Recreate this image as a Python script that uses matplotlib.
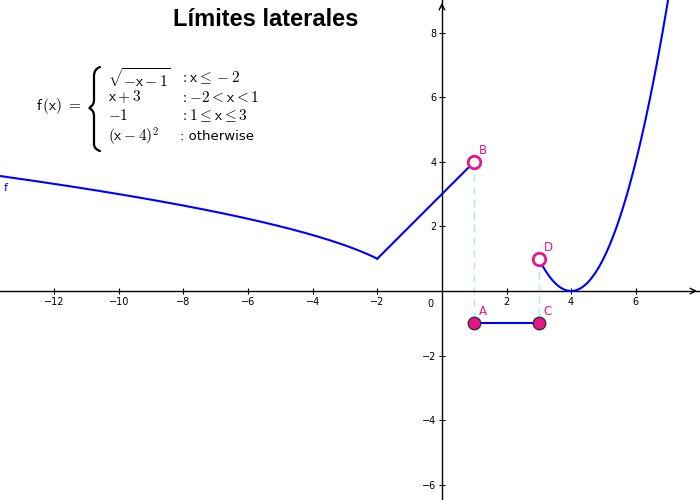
import numpy as np
import matplotlib
matplotlib.use("Agg")
import matplotlib.pyplot as plt
from matplotlib.path import Path
from matplotlib.patches import PathPatch

# datos
titulo = "Límites laterales"
puntos_nombre = ["A", "B", "C", "D"]
puntos_x = [1, 1, 3, 3]
puntos_y = [-1, 4, -1, 1]
puntos_abiertos = [False, True, False, True]
xticks = [-12, -10, -8, -6, -4, -2, 2, 4, 6]
yticks = [-6, -4, -2, 2, 4, 6, 8]
filas_expr = [r"$\sqrt{-\mathsf{x}-1}$", r"$\mathsf{x}+3$", r"$-1$", r"$(\mathsf{x}-4)^2$"]
filas_cond = [r"$:\mathsf{x}\leq-2$", r"$:-2<\mathsf{x}<1$", r"$:1\leq \mathsf{x}\leq 3$", ": otherwise"]

# limites de la ventana
xmin, xmax = -13.68, 7.99
ymin, ymax = -6.47, 9.01

plt.rcParams['mathtext.fontset'] = 'cm'
plt.rcParams['font.family'] = ['DejaVu Sans']

fig = plt.figure(figsize=(7, 5), dpi=100)
ax = fig.add_axes([0, 0, 1, 1])
ax.set_xlim(xmin, xmax)
ax.set_ylim(ymin, ymax)

azul = "#0000ff"
magenta = "#e4168a"
cian = "#a8e8ec"

# la funcion por tramos
x1 = np.linspace(xmin, -2, 300)
ax.plot(x1, np.sqrt(-x1 - 1), color=azul, lw=1.5, zorder=3)
x2 = np.linspace(-2, 1, 50)
ax.plot(x2, x2 + 3, color=azul, lw=1.5, zorder=3)
x3 = np.linspace(3, 7.05, 200)
ax.plot(x3, (x3 - 4) ** 2, color=azul, lw=1.5, zorder=3)
ax.plot([puntos_x[0], puntos_x[2]], [puntos_y[0], puntos_y[2]], color=azul, lw=1.5, zorder=3)
ax.text(-13.55, 3.1, "f", color=azul, fontsize=8)

# lineas punteadas
ax.plot([1, 1], [4, -1], color=cian, lw=1, ls=(0, (5, 4)), zorder=2)
ax.plot([3, 3], [1, -1], color=cian, lw=1, ls=(0, (5, 4)), zorder=2)

# puntos
for n, px_, py_, abierto in zip(puntos_nombre, puntos_x, puntos_y, puntos_abiertos):
    if abierto:
        ax.plot(px_, py_, "o", ms=9, mfc="white", mec=magenta, mew=2, zorder=5)
    else:
        ax.plot(px_, py_, "o", ms=9, mfc=magenta, mec="#333333", mew=1, zorder=5)
    ax.text(px_ + 0.15, py_ + 0.25, n, color=magenta, fontsize=8.5)

# ejes
for s in ["top", "right"]:
    ax.spines[s].set_visible(False)
ax.spines["left"].set_position(("data", 0))
ax.spines["bottom"].set_position(("data", 0))
ax.spines["left"].set_linewidth(1)
ax.spines["bottom"].set_linewidth(1)
ax.set_xticks(xticks)
ax.set_yticks(yticks)
ax.set_xticklabels(["\u2212" + str(-t) if t < 0 else str(t) for t in xticks])
ax.set_yticklabels(["\u2212" + str(-t) if t < 0 else str(t) for t in yticks])
ax.tick_params(axis="both", direction="inout", length=4, labelsize=7, pad=2)
ax.text(-0.25, -0.25, "0", fontsize=7, ha="right", va="top")
ax.annotate("", xy=(xmax, 0), xytext=(xmax - 0.3, 0),
            arrowprops=dict(arrowstyle="->", lw=1, color="black"))
ax.annotate("", xy=(0, ymax), xytext=(0, ymax - 0.3),
            arrowprops=dict(arrowstyle="->", lw=1, color="black"))

# titulo
fig.text(266 / 700, 1 - 20 / 500, titulo, fontsize=17, fontweight="bold",
         ha="center", va="center", family="Liberation Sans")

# formula
fig.text(36 / 700, 1 - 106 / 500, r"$\mathsf{f}\,(\mathsf{x})\ =$", fontsize=11, va="center")

# llave dibujada en pixeles
def px(x, y):
    return (x / 700, 1 - y / 500)

verts = [px(100, 67), px(94, 69), px(94, 76), px(94, 80),
         px(94, 100),
         px(94, 106), px(89, 108), px(89, 108),
         px(89, 108), px(94, 110), px(94, 116),
         px(94, 140),
         px(94, 144), px(94, 149), px(100, 151)]
codes = [Path.MOVETO, Path.CURVE3, Path.CURVE3, Path.LINETO,
         Path.LINETO,
         Path.CURVE4, Path.CURVE4, Path.CURVE4,
         Path.LINETO, Path.CURVE3, Path.CURVE3,
         Path.LINETO,
         Path.LINETO, Path.CURVE3, Path.CURVE3]
fig.patches.append(PathPatch(Path(verts, codes), transform=fig.transFigure,
                             fill=False, lw=1.6, edgecolor="black", capstyle="round"))

filas_y = [78, 97, 115, 137]
for e, c, fy in zip(filas_expr, filas_cond, filas_y):
    fig.text(108 / 700, 1 - fy / 500, e, fontsize=11, va="center")
    fig.text(180 / 700, 1 - fy / 500, c, fontsize=11 if c.startswith("$") else 9.5, va="center")

fig.savefig("out.png", dpi=100)
